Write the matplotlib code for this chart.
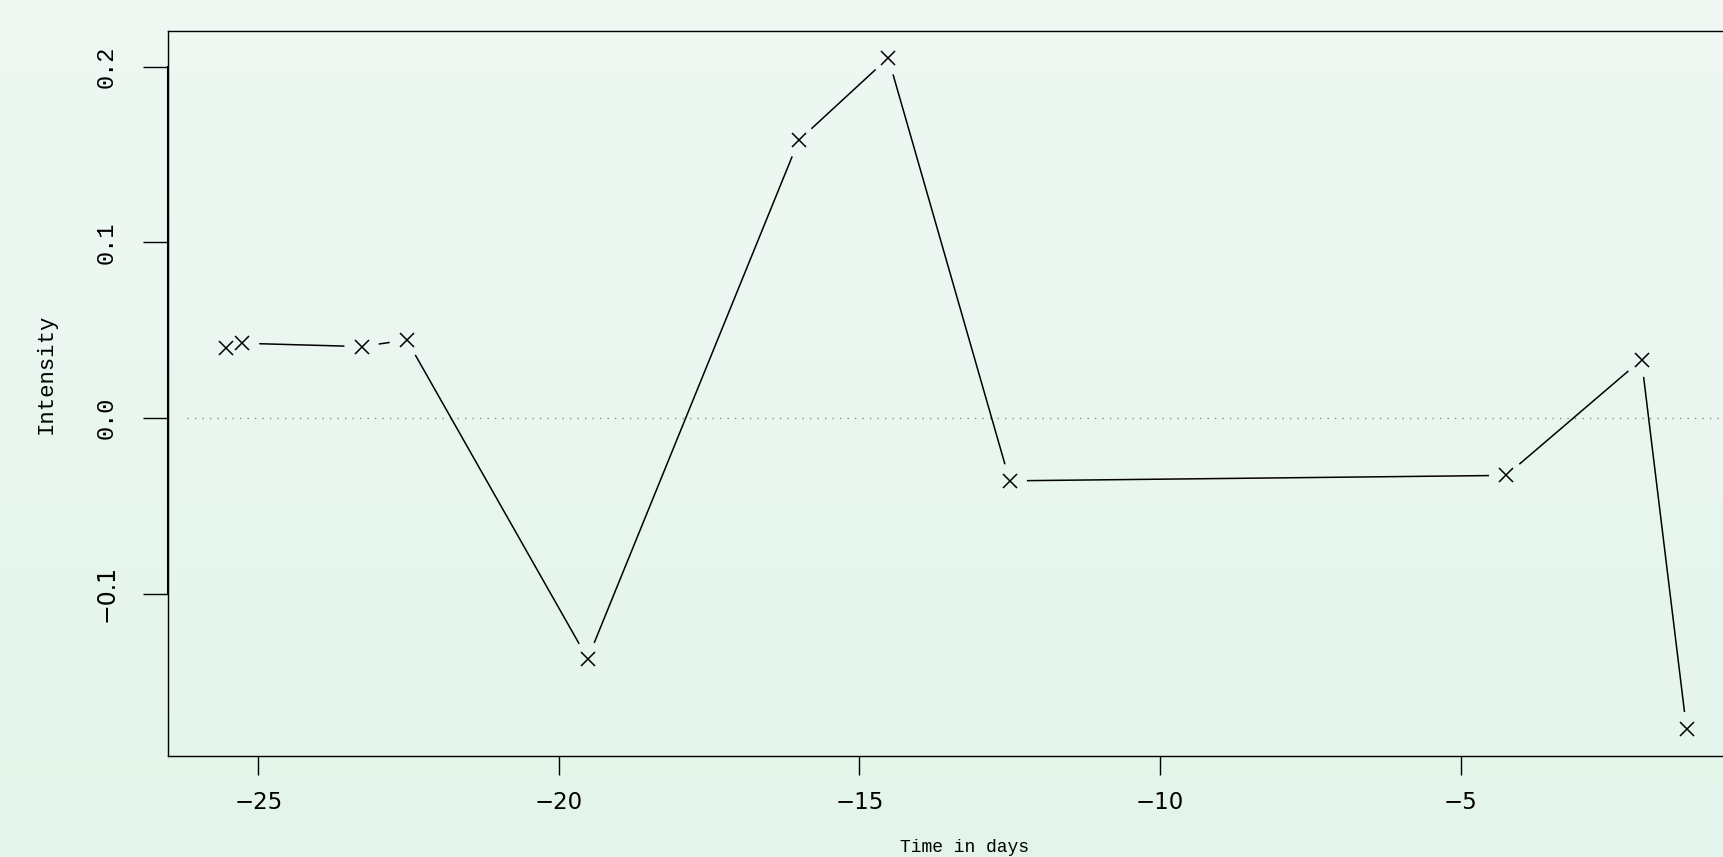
import numpy as np
import matplotlib
matplotlib.use("Agg")
import matplotlib.pyplot as plt
from matplotlib.colors import LinearSegmentedColormap

# days relative to event, measured intensity
days = [-25.53, -25.27, -23.28, -22.53, -19.52, -16.01, -14.52, -12.50, -4.24, -1.99, -1.24]
intensity = [0.0401, 0.0426, 0.0407, 0.0445, -0.137, 0.158, 0.205, -0.0357, -0.0326, 0.0332, -0.177]

xticks = [-25, -20, -15, -10, -5]
yticks = [-0.1, 0.0, 0.1, 0.2]
ytick_labels = ["\u22120.1", "0.0", "0.1", "0.2"]

W, H, DPI = 1723, 857, 100
fig = plt.figure(figsize=(W / DPI, H / DPI), dpi=DPI)

# soft green vertical gradient behind everything
bg = fig.add_axes([0, 0, 1, 1], zorder=-10)
cmap = LinearSegmentedColormap.from_list("bg", ["#eff8f3", "#e3f5ea"])
bg.imshow(np.linspace(0, 1, 256).reshape(-1, 1), aspect="auto", cmap=cmap,
          extent=[0, 1, 0, 1], origin="upper")
bg.axis("off")

ax = fig.add_axes([168 / W, 1 - 756 / H, (1745 - 168) / W, (756 - 31) / H])
ax.set_facecolor("none")

x = np.array(days)
y = np.array(intensity)
xr = x.max() - x.min()
yr = y.max() - y.min()
ax.set_xlim(x.min() - 0.04 * xr, x.max() + 0.04 * xr)
ax.set_ylim(y.min() - 0.04 * yr, y.max() + 0.04 * yr)

# zero reference line
ax.axhline(0, xmin=0.012, color="#777777", lw=0.9, ls=(0, (1, 5)))

# markers
ax.plot(x, y, ls="none", marker="x", ms=10, mew=1.1, color="black", zorder=3)

# connecting segments with a gap around each marker
gap = 18
pts = ax.transData.transform(np.column_stack([x, y]))
inv = ax.transData.inverted()
for p0, p1 in zip(pts[:-1], pts[1:]):
    d = p1 - p0
    L = np.hypot(*d)
    if L <= 2 * gap:
        continue
    u = d / L
    a = inv.transform(p0 + u * gap)
    b = inv.transform(p1 - u * gap)
    ax.plot([a[0], b[0]], [a[1], b[1]], color="black", lw=1.1, zorder=2)

for s in ["left", "top", "bottom", "right"]:
    ax.spines[s].set_linewidth(1.0)
    ax.spines[s].set_color("black")

# axis line over the tick range
ax.plot([ax.get_xlim()[0]] * 2, [yticks[0], yticks[-1]], color="black", lw=1.5,
        clip_on=False, zorder=4)

ax.set_xticks(xticks)
ax.set_xticklabels(["\u2212%d" % abs(t) for t in xticks], fontsize=16.5, family="DejaVu Sans")
ax.tick_params(axis="x", length=14, width=1, pad=11)

ax.set_yticks(yticks)
ax.set_yticklabels(ytick_labels, rotation=90, va="center", fontsize=17)
for i, lab in enumerate(ax.get_yticklabels()):
    lab.set_family("DejaVu Sans" if i == 0 else "Liberation Mono")
ax.tick_params(axis="y", length=18, width=1, pad=18)

fig.text(46 / W, 1 - 374 / H, "Intensity", rotation=90, ha="center", va="center",
         family="Liberation Mono", fontsize=16)
fig.text(965 / W, 1 / H, "Time in days", ha="center", va="bottom",
         family="Liberation Mono", fontsize=13)

fig.savefig("out.png", dpi=DPI)
